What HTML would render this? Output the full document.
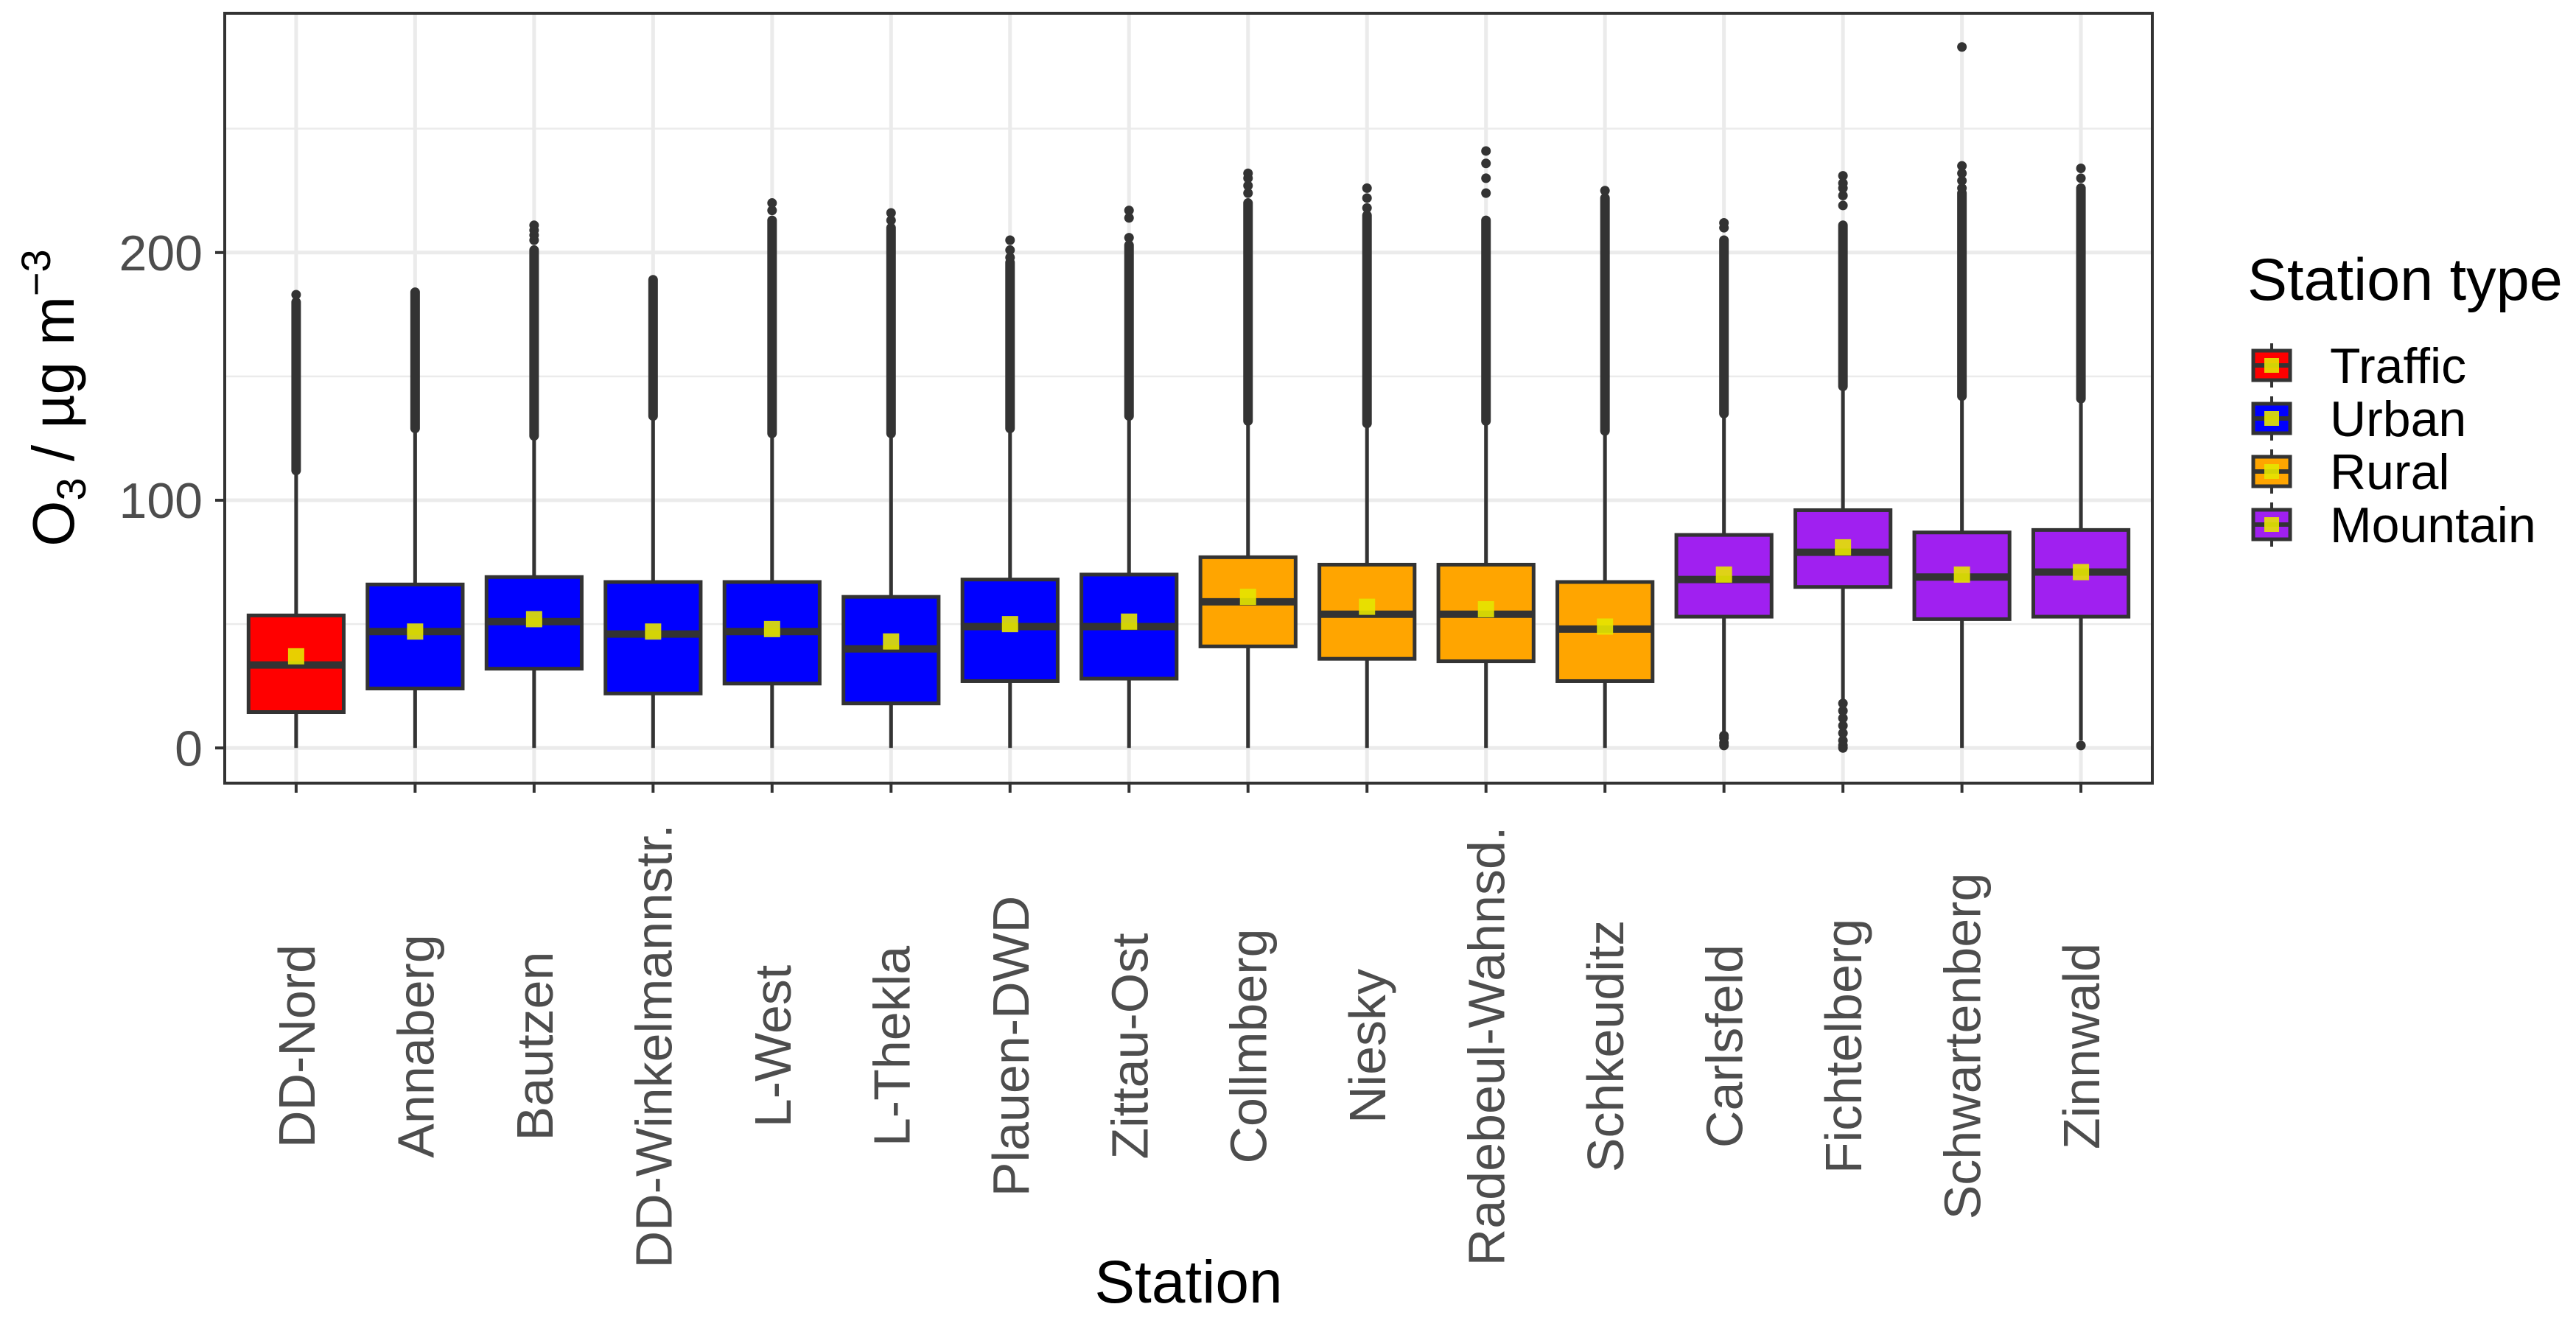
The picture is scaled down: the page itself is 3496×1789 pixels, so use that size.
<!DOCTYPE html>
<html><head><meta charset="utf-8"><style>
html,body{margin:0;padding:0;background:#fff}
svg{display:block}
text{font-family:"Liberation Sans",Arial,sans-serif}
</style></head>
<body>
<svg id="chart" width="3496" height="1789" viewBox="0 0 3496 1789" xmlns="http://www.w3.org/2000/svg"></svg>
<script>
const stations = ["DD-Nord","Annaberg","Bautzen","DD-Winkelmannstr.","L-West","L-Thekla","Plauen-DWD","Zittau-Ost","Collmberg","Niesky","Radebeul-Wahnsd.","Schkeuditz","Carlsfeld","Fichtelberg","Schwartenberg","Zinnwald"];
const stationTypes = ["Traffic","Urban","Urban","Urban","Urban","Urban","Urban","Urban","Rural","Rural","Rural","Rural","Mountain","Mountain","Mountain","Mountain"];
const q1 = [14.5,24,32,22,26,18,27,28,41,36,35,27,53,65,52,53];
const medians = [33.5,47,51,46,47,40,49,49,59,54,54,48,68,79,69,71];
const q3 = [53.5,66,69,67,67,61,68,70,77,74,74,67,86,96,87,88];
const means = [37,47,52,47,48,43,50,51,61,57,56,49,70,81,70,71];
const whiskerLow = [0,0,0,0,0,0,0,0,0,0,0,0,6,19,0,3];
const whiskerHigh = [111,128,125,133,126,126,128,133,131,130,131,127,134,145,141,140];
const outlierDenseTop = [180,184,201,189,213,210,196,203,220,215,213,222,205,211,224,226];
const outlierExtra = [[183],[],[205,207,209,211],[],[217,220],[213,216],[198,201,205],[206,214,217],[224,227,230,232],[218,222,226],[224,230,236,241],[225],[210,212],[219,223,226,228,231],[226,229,232,235,283],[230,234]];
const lowOutliers = [[],[],[],[],[],[],[],[],[],[],[],[],[1,2,4,5],[0,1,3,6,9,12,15,18],[],[1]];
const yTicks = [0,100,200];
const yMinor = [50,150,250];
const typeNames = ["Traffic","Urban","Rural","Mountain"];
const typeColors = {"Traffic":"#FF0000","Urban":"#0000FF","Rural":"#FFA500","Mountain":"#A020F0"};

const NS="http://www.w3.org/2000/svg";
const svg=document.getElementById('chart');
const P={l:305,r:2921,t:18,b:1063};
const yMin=-14.2, yMax=296.6;
const y=v=>P.b-(v-yMin)/(yMax-yMin)*(P.b-P.t);
const unit=(P.r-P.l)/(stations.length-1+1.2);
const x=i=>P.l+(0.6+i)*unit;
function el(tag,attrs,parent){const e=document.createElementNS(NS,tag);for(const k in attrs)e.setAttribute(k,attrs[k]);(parent||svg).appendChild(e);return e;}
const dark="#333333";

const grid=el('g',{});


yMinor.forEach(v=>el('line',{x1:P.l,x2:P.r,y1:y(v),y2:y(v),stroke:"#EBEBEB","stroke-width":2.5},grid));
yTicks.forEach(v=>el('line',{x1:P.l,x2:P.r,y1:y(v),y2:y(v),stroke:"#EBEBEB","stroke-width":5},grid));
stations.forEach((s,i)=>el('line',{x1:x(i),x2:x(i),y1:P.t,y2:P.b,stroke:"#EBEBEB","stroke-width":5},grid));

const bw=unit*0.8;
stations.forEach((s,i)=>{
  const g=el('g',{});
  
  
  const cx=x(i);
  el('line',{x1:cx,x2:cx,y1:y(q3[i]),y2:y(whiskerHigh[i]),stroke:dark,"stroke-width":5},g);
  el('line',{x1:cx,x2:cx,y1:y(q1[i]),y2:y(whiskerLow[i]),stroke:dark,"stroke-width":5},g);
  el('line',{x1:cx,x2:cx,y1:y(whiskerHigh[i]+1),y2:y(outlierDenseTop[i]),stroke:dark,"stroke-width":13,"stroke-linecap":"round"},g);
  outlierExtra[i].forEach(v=>el('circle',{cx:cx,cy:y(v),r:6.5,fill:dark},g));
  lowOutliers[i].forEach(v=>el('circle',{cx:cx,cy:y(v),r:6.5,fill:dark},g));
  el('rect',{x:cx-bw/2,y:y(q3[i]),width:bw,height:y(q1[i])-y(q3[i]),fill:typeColors[stationTypes[i]],stroke:dark,"stroke-width":5},g);
  el('line',{x1:cx-bw/2,x2:cx+bw/2,y1:y(medians[i]),y2:y(medians[i]),stroke:dark,"stroke-width":10},g);
  el('rect',{x:cx-11,y:y(means[i])-11,width:22,height:22,fill:"#E6E600","fill-opacity":0.9},g);
});

const frame=el('rect',{x:P.l,y:P.t,width:P.r-P.l,height:P.b-P.t,fill:"none",stroke:dark,"stroke-width":4});



const yax=el('g',{});


yTicks.forEach(v=>{
  el('line',{x1:P.l-13,x2:P.l,y1:y(v),y2:y(v),stroke:dark,"stroke-width":4},yax);
  const t=el('text',{x:P.l-30,y:y(v)+24,"text-anchor":"end","font-size":68,fill:"#4D4D4D"},yax);
  t.textContent=v;
});
const xax=el('g',{});


stations.forEach((s,i)=>{
  el('line',{x1:x(i),x2:x(i),y1:P.b,y2:P.b+13,stroke:dark,"stroke-width":4},xax);
  const t=el('text',{x:0,y:0,"text-anchor":"middle","font-size":70,fill:"#4D4D4D",transform:`translate(${x(i)+25},1420) rotate(-90)`},xax);
  
  
  t.textContent=s;
});

const xt=el('text',{x:(P.l+P.r)/2,y:1768,"text-anchor":"middle","font-size":82,fill:"#000"});


xt.textContent="Station";

const yt=el('text',{x:0,y:0,"text-anchor":"middle","font-size":80,fill:"#000",transform:"translate(100,540) rotate(-90)"});


yt.innerHTML='O<tspan font-size="56" dy="16">3</tspan><tspan dy="-16"> / µg m</tspan><tspan font-size="56" dy="-32">−3</tspan>';

const lg=el('g',{});


const lt=el('text',{x:3050,y:407,"font-size":81,fill:"#000"},lg);
lt.textContent="Station type";
typeNames.forEach((n,k)=>{
  const cy=496+k*72;
  const e=el('g',{},lg);
  
  
  el('line',{x1:3083,x2:3083,y1:cy-30,y2:cy+30,stroke:dark,"stroke-width":4},e);
  el('rect',{x:3058,y:cy-20,width:50,height:40,fill:typeColors[n],stroke:dark,"stroke-width":5},e);
  el('line',{x1:3058,x2:3108,y1:cy,y2:cy,stroke:dark,"stroke-width":6},e);
  el('rect',{x:3073,y:cy-10,width:20,height:20,fill:"#E6E600","fill-opacity":0.9},e);
  const t=el('text',{x:3162,y:cy+24,"font-size":68,fill:"#000"},e);
  t.textContent=n;
});
</script>
</body></html>
